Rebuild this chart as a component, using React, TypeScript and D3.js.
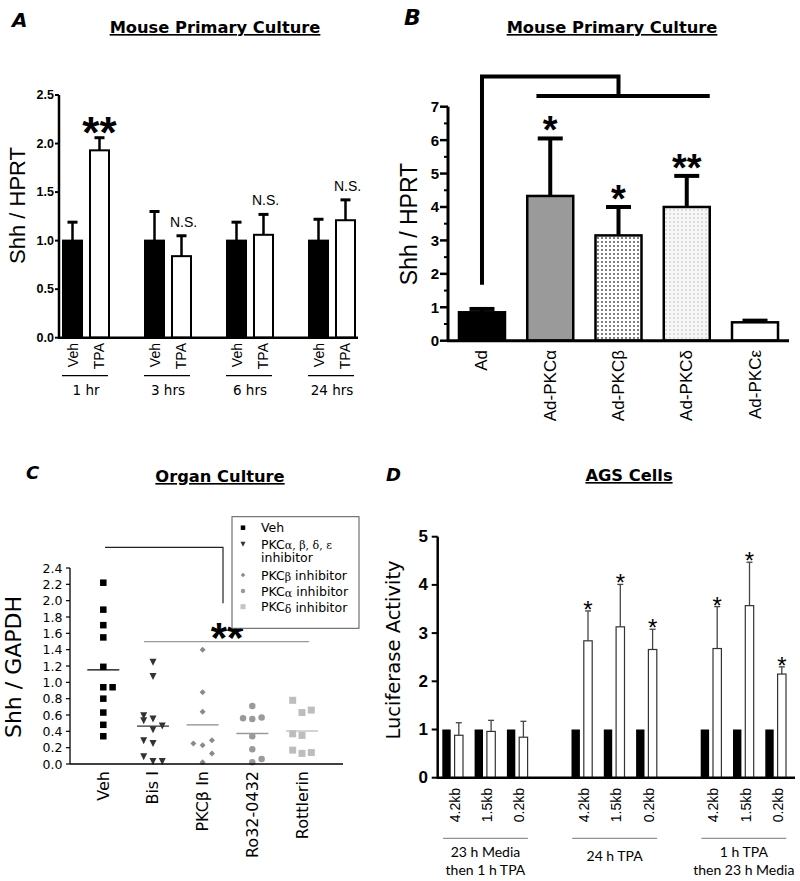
import React from "react";
import * as d3 from "d3";

// ---------- Panel A data ----------
const aGroups = ["1 hr", "3 hrs", "6 hrs", "24 hrs"];
const aConds = ["Veh", "TPA"];
const aVehMean = [1.0, 1.0, 1.0, 1.0];
const aVehErr = [1.19, 1.3, 1.19, 1.22];
const aTpaMean = [1.93, 0.84, 1.06, 1.21];
const aTpaErr = [2.06, 1.05, 1.27, 1.42];
const aSig = ["**", "N.S.", "N.S.", "N.S."];
const aTicks = [0, 0.5, 1.0, 1.5, 2.0, 2.5];

// ---------- Panel B data ----------
const bCats = ["Ad", "Ad-PKCα", "Ad-PKCβ", "Ad-PKCδ", "Ad-PKCε"];
const bMeans = [0.85, 4.33, 3.15, 4.0, 0.55];
const bErr = [0.95, 6.05, 4.0, 4.93, 0.6];
const bSig = ["", "*", "*", "**", ""];
const bTicks = [0, 1, 2, 3, 4, 5, 6, 7];
const bBracket = [1.67, 7.9, 7.32]; // low end, top, second line (y units)

// ---------- Panel C data ----------
const cCats = ["Veh", "Bis I", "PKCβ In", "Ro32-0432", "Rottlerin"];
// [value, jitter column]
const cVeh: [number, number][] = [[2.22, 0], [1.89, 0], [1.7, 0], [1.55, 0], [1.19, 0], [0.94, 0], [0.94, 1], [0.8, 0], [0.63, 0], [0.48, 0], [0.34, 0]];
const cBis: [number, number][] = [[1.245, 0], [1.07, 0], [0.59, -1], [0.53, -1], [0.55, 0], [0.465, 1], [0.42, 0], [0.285, -1], [0.25, 0], [0.09, -1], [0.03, 0], [0.03, 1]];
const cPkcb: [number, number][] = [[1.4, 0], [0.88, 0], [0.64, 0], [0.25, -1], [0.23, 0], [0.29, 1], [0.13, 1], [0.02, 0]];
const cRo: [number, number][] = [[0.71, 0], [0.56, -1], [0.55, 0], [0.57, 1], [0.34, 0], [0.18, 0], [0.02, 0], [0.06, 1]];
const cRott: [number, number][] = [[0.78, -1], [0.66, 1], [0.63, 0], [0.37, -1], [0.35, 0], [0.17, -1], [0.13, 0], [0.14, 1]];
const cTicks = [0, 0.2, 0.4, 0.6, 0.8, 1.0, 1.2, 1.4, 1.6, 1.8, 2.0, 2.2, 2.4];

// ---------- Panel D data ----------
const dConstructs = ["4.2kb", "1.5kb", "0.2kb"];
const dGroups = [["23 h Media", "then 1 h TPA"], ["24 h TPA"], ["1 h TPA", "then 23 h Media"]];
const dControl = [1, 1, 1, 1, 1, 1, 1, 1, 1];
const dTreated = [0.88, 0.96, 0.84, 2.84, 3.13, 2.66, 2.68, 3.57, 2.15];
const dTreatedErr = [1.14, 1.19, 1.17, 3.46, 4.01, 3.08, 3.55, 4.47, 2.3];
const dSig = ["", "", "", "*", "*", "*", "*", "*", "*"];
const dTicks = [0, 1, 2, 3, 4, 5];

const ARIAL = "'Liberation Sans', Arial, sans-serif";
const COMIC = "'DejaVu Sans', sans-serif";
const LATO = "Lato, 'Open Sans', sans-serif";

function Title({ x, y, text }: { x: number; y: number; text: string }) {
  return (
    <text x={x} y={y} textAnchor="middle" fontFamily={COMIC} fontWeight="bold" fontSize={16.3}
      style={{ textDecoration: "underline" }}>{text}</text>
  );
}

function PanelLabel({ x, y, text, size }: { x: number; y: number; text: string; size: number }) {
  return <text x={x} y={y} fontFamily={COMIC} fontWeight="bold" fontStyle="italic" fontSize={size}>{text}</text>;
}

function PanelA() {
  const y = d3.scaleLinear().domain([0, 2.5]).range([337.7, 95]);
  const xg = d3.scaleBand<string>().domain(aGroups).range([63, 63 + 82 * 4]);
  const xc = d3.scaleBand<string>().domain(aConds).range([0, 46]).paddingInner(0.296);
  const bw = xc.bandwidth();
  const axisX = 59;
  return (
    <g>
      <PanelLabel x={12} y={27} text="A" size={20} />
      <Title x={215} y={33} text="Mouse Primary Culture" />
      <text transform={`translate(17,205.5) rotate(-90)`} textAnchor="middle" dominantBaseline="central"
        fontFamily={ARIAL} fontSize={22}>Shh / HPRT</text>
      {aGroups.map((g, i) => {
        const gx = xg(g)!;
        const vals = [[aVehMean[i], aVehErr[i]], [aTpaMean[i], aTpaErr[i]]];
        return (
          <g key={g}>
            {aConds.map((c, j) => {
              const x = gx + xc(c)!;
              const [m, e] = vals[j];
              const cx = x + bw / 2;
              return (
                <g key={c}>
                  <line x1={cx} x2={cx} y1={y(m)} y2={y(e)} stroke="black" strokeWidth={2.5} />
                  <line x1={cx - 5} x2={cx + 5} y1={y(e)} y2={y(e)} stroke="black" strokeWidth={3} />
                  <rect x={x} y={y(m)} width={bw} height={y(0) - y(m)} fill={j === 0 ? "black" : "white"}
                    stroke="black" strokeWidth={2} />
                  <text transform={`translate(${cx},343) rotate(-90)`} textAnchor="end" dominantBaseline="central"
                    fontFamily={ARIAL} fontSize={14}>{c}</text>
                </g>
              );
            })}
            <line x1={gx - 1} x2={gx + 45} y1={375.7} y2={375.7} stroke="black" strokeWidth={1.2} />
            <text x={gx + 23} y={395} textAnchor="middle" fontFamily={COMIC} fontSize={13.5}>{g}</text>
            {aSig[i] === "**" ? (
              <text x={gx + xc("TPA")! + bw / 2} y={y(aTpaErr[i]) + 10} textAnchor="middle" fontFamily={ARIAL}
                fontWeight="bold" fontSize={44}>{aSig[i]}</text>
            ) : (
              <text x={gx + xc("TPA")! + bw / 2 + 2} y={y(aTpaErr[i]) - 9} textAnchor="middle" fontFamily={ARIAL}
                fontSize={14}>{aSig[i]}</text>
            )}
          </g>
        );
      })}
      <line x1={axisX} x2={axisX} y1={y(0)} y2={y(2.5)} stroke="black" strokeWidth={2.5} />
      <line x1={axisX - 1} x2={358} y1={y(0)} y2={y(0)} stroke="black" strokeWidth={2.5} />
      {aTicks.map((t) => (
        <g key={t}>
          <line x1={axisX - 4} x2={axisX} y1={y(t)} y2={y(t)} stroke="black" strokeWidth={2} />
          <text x={axisX - 5} y={y(t)} textAnchor="end" dominantBaseline="central" fontFamily={ARIAL}
            fontWeight="bold" fontSize={12.5}>{t.toFixed(1)}</text>
        </g>
      ))}
    </g>
  );
}

function PanelB() {
  const y = d3.scaleLinear().domain([0, 7]).range([340.7, 106.7]);
  const x = d3.scaleBand<string>().domain(bCats).range([448, 789]).paddingInner(0.326).paddingOuter(0.161);
  const bw = x.bandwidth();
  const fills = ["black", "#9a9a9a", "url(#dotsDark)", "url(#dotsLight)", "white"];
  const axisX = 448;
  const minor = d3.range(0.5, 7, 1);
  const adC = x("Ad")! + bw / 2;
  const joinX = x("Ad-PKCβ")! + bw / 2;
  const [bLow, bTop, bMid] = bBracket;
  return (
    <g>
      <PanelLabel x={404} y={25} text="B" size={22} />
      <Title x={612} y={33} text="Mouse Primary Culture" />
      <text transform={`translate(409,224) rotate(-90)`} textAnchor="middle" dominantBaseline="central"
        fontFamily={ARIAL} fontSize={23}>Shh / HPRT</text>
      {bCats.map((c, i) => {
        const bx = x(c)!;
        const cx = bx + bw / 2;
        return (
          <g key={c}>
            <line x1={cx} x2={cx} y1={y(bMeans[i])} y2={y(bErr[i])} stroke="black" strokeWidth={4} />
            <line x1={cx - 12.5} x2={cx + 12.5} y1={y(bErr[i])} y2={y(bErr[i])} stroke="black" strokeWidth={4} />
            <rect x={bx} y={y(bMeans[i])} width={bw} height={y(0) - y(bMeans[i])} fill={fills[i]}
              stroke="black" strokeWidth={2.5} />
            <text transform={`translate(${cx},350) rotate(-90)`} textAnchor="end" dominantBaseline="central"
              fontFamily={ARIAL} fontSize={17}>{c}</text>
            {bSig[i] && (
              <text x={cx} y={y(bErr[i]) + 5} textAnchor="middle" fontFamily={ARIAL} fontWeight="bold"
                fontSize={38}>{bSig[i]}</text>
            )}
          </g>
        );
      })}
      {/* significance bracket */}
      <path d={`M${adC},${y(bLow)} V${y(bTop)} H${joinX} V${y(bMid)}`} fill="none" stroke="black" strokeWidth={4} />
      <line x1={x("Ad-PKCα")! + bw * 0.2} x2={x("Ad-PKCδ")! + bw} y1={y(bMid)} y2={y(bMid)} stroke="black" strokeWidth={4} />
      <line x1={axisX} x2={axisX} y1={y(0)} y2={y(7)} stroke="black" strokeWidth={3} />
      <line x1={axisX - 1} x2={789} y1={y(0)} y2={y(0)} stroke="black" strokeWidth={3} />
      {bTicks.map((t) => (
        <g key={t}>
          <line x1={axisX - 8} x2={axisX} y1={y(t)} y2={y(t)} stroke="black" strokeWidth={2.5} />
          <text x={axisX - 9} y={y(t)} textAnchor="end" dominantBaseline="central" fontFamily={ARIAL}
            fontWeight="bold" fontSize={15}>{t}</text>
        </g>
      ))}
      {minor.map((t) => (
        <line key={t} x1={axisX - 4} x2={axisX} y1={y(t)} y2={y(t)} stroke="black" strokeWidth={2} />
      ))}
    </g>
  );
}

function Marker({ kind, x, y, color, s }: { kind: string; x: number; y: number; color: string; s: number }) {
  if (kind === "square") return <rect x={x - s / 2} y={y - s / 2} width={s} height={s} fill={color} />;
  if (kind === "tri")
    return <path d={`M${x - s / 2},${y - s / 2} L${x + s / 2},${y - s / 2} L${x},${y + s / 2} Z`} fill={color} />;
  if (kind === "diamond")
    return <path d={`M${x},${y - s / 2} L${x + s / 2},${y} L${x},${y + s / 2} L${x - s / 2},${y} Z`} fill={color} />;
  return <circle cx={x} cy={y} r={s / 2} fill={color} />;
}

function PanelC() {
  const y = d3.scaleLinear().domain([0, 2.4]).range([764, 568]);
  const x = d3.scalePoint<string>().domain(cCats).range([103.3, 302]);
  const jit = 9.3;
  const series = [
    { data: cVeh, kind: "square", color: "black", s: 6.5, mean: "black" },
    { data: cBis, kind: "tri", color: "#333333", s: 7, mean: "#333333" },
    { data: cPkcb, kind: "diamond", color: "#8a8a8a", s: 6, mean: "#8a8a8a" },
    { data: cRo, kind: "circle", color: "#9a9a9a", s: 6.5, mean: "#9a9a9a" },
    { data: cRott, kind: "square", color: "#bdbdbd", s: 7, mean: "#bdbdbd" },
  ];
  const axisX = 70;
  const legend = [
    { kind: "square", color: "black", s: 4.5 },
    { kind: "tri", color: "#333333", s: 5 },
    { kind: "diamond", color: "#8a8a8a", s: 4.5 },
    { kind: "circle", color: "#9a9a9a", s: 4.5 },
    { kind: "square", color: "#c4c4c4", s: 5 },
  ];
  const greek = "'DejaVu Serif', serif";
  return (
    <g>
      <PanelLabel x={26} y={479} text="C" size={18} />
      <Title x={220} y={482} text="Organ Culture" />
      <text transform={`translate(13,667) rotate(-90)`} textAnchor="middle" dominantBaseline="central"
        fontFamily={COMIC} fontSize={22}>Shh / GAPDH</text>
      {/* bracket */}
      <path d={`M105,547.3 H223 V603.3`} fill="none" stroke="#222" strokeWidth={1.2} />
      <line x1={144} x2={309} y1={641.7} y2={641.7} stroke="#999" strokeWidth={1.3} />
      <text x={227} y={652} textAnchor="middle" fontFamily={ARIAL} fontWeight="bold" fontSize={42}>**</text>
      {series.map((s, i) => {
        const cx = x(cCats[i])!;
        const m = d3.mean(s.data, (d) => d[0])!;
        return (
          <g key={cCats[i]}>
            {s.data.map((d, k) => (
              <Marker key={k} kind={s.kind} x={cx + d[1] * jit} y={y(d[0])} color={s.color} s={s.s} />
            ))}
            <line x1={cx - 16} x2={cx + 16} y1={y(m)} y2={y(m)} stroke={s.mean} strokeWidth={1.3} />
            <text transform={`translate(${cx},771) rotate(-90)`} textAnchor="end" dominantBaseline="central"
              fontFamily={COMIC} fontSize={16}>{cCats[i]}</text>
          </g>
        );
      })}
      <line x1={axisX} x2={axisX} y1={y(0)} y2={y(2.4)} stroke="black" strokeWidth={1.3} />
      <line x1={axisX} x2={343} y1={y(0)} y2={y(0)} stroke="black" strokeWidth={1.3} />
      {cTicks.map((t) => (
        <g key={t}>
          <line x1={axisX - 4} x2={axisX} y1={y(t)} y2={y(t)} stroke="black" strokeWidth={1.2} />
          <text x={62.5} y={y(t)} textAnchor="end" dominantBaseline="central" fontFamily={COMIC}
            fontSize={12.5}>{t.toFixed(1)}</text>
        </g>
      ))}
      {/* legend */}
      <rect x={232} y={516.7} width={127} height={111.6} fill="white" stroke="#555" strokeWidth={1} />
      {[527.7, 544.3, 575, 591, 606.7].map((ly, i) => (
        <Marker key={i} kind={legend[i].kind} x={243} y={ly} color={legend[i].color} s={legend[i].s} />
      ))}
      <g fontFamily={COMIC} fontSize={12.5}>
        <text x={261} y={527.7} dominantBaseline="central">Veh</text>
        <text x={261} y={544.3} dominantBaseline="central">PKC<tspan fontFamily={greek} fontSize={11} dy={1}>α, β, δ, ε</tspan></text>
        <text x={261} y={557.7} dominantBaseline="central">inhibitor</text>
        <text x={261} y={575} dominantBaseline="central">PKC<tspan fontFamily={greek} fontSize={11} dy={2}>β</tspan><tspan dy={-2}> inhibitor</tspan></text>
        <text x={261} y={591} dominantBaseline="central">PKC<tspan fontFamily={greek} fontSize={11} dy={2}>α</tspan><tspan dy={-2}> inhibitor</tspan></text>
        <text x={261} y={606.7} dominantBaseline="central">PKC<tspan fontFamily={greek} fontSize={11} dy={2}>δ</tspan><tspan dy={-2}> inhibitor</tspan></text>
      </g>
    </g>
  );
}

function PanelD() {
  const y = d3.scaleLinear().domain([0, 5]).range([777.7, 536.7]);
  const slot = d3.scaleLinear().domain([0, 10]).range([442.3, 765.3]);
  const bw = 8.4;
  const off = 12.3;
  const axisX = 437.7;
  return (
    <g>
      <PanelLabel x={386} y={481} text="D" size={18} />
      <Title x={629} y={481} text="AGS Cells" />
      <text transform={`translate(393,650) rotate(-90)`} textAnchor="middle" dominantBaseline="central"
        fontFamily={COMIC} fontSize={19.5}>Luciferase Activity</text>
      {dTreated.map((v, i) => {
        const g = Math.floor(i / 3);
        const c = i % 3;
        const sx = slot(g * 4 + c);
        const wx = sx + off;
        const wc = wx + bw / 2;
        return (
          <g key={i}>
            <rect x={sx} y={y(dControl[i])} width={bw} height={y(0) - y(dControl[i])} fill="black" />
            <line x1={wc} x2={wc} y1={y(v)} y2={y(dTreatedErr[i])} stroke="#444" strokeWidth={1.3} />
            <line x1={wc - 3} x2={wc + 3} y1={y(dTreatedErr[i])} y2={y(dTreatedErr[i])} stroke="#444" strokeWidth={1.3} />
            <rect x={wx} y={y(v)} width={bw} height={y(0) - y(v)} fill="white" stroke="#333" strokeWidth={1.2} />
            {dSig[i] && (
              <text x={wc} y={y(dTreatedErr[i]) + 7} textAnchor="middle" fontFamily={ARIAL} fontSize={24}>{dSig[i]}</text>
            )}
            <text transform={`translate(${sx + 12.5},788) rotate(-90)`} textAnchor="end" dominantBaseline="central"
              fontFamily={ARIAL} fontSize={14}>{dConstructs[c]}</text>
          </g>
        );
      })}
      {dGroups.map((lines, g) => {
        const x1 = slot(g * 4) + 0.7;
        const x2 = slot(g * 4 + 2) + 21;
        const cx = (x1 + x2) / 2;
        const y0 = lines.length === 1 ? 861 : 857;
        return (
          <g key={g}>
            <line x1={x1} x2={x2} y1={838.3} y2={838.3} stroke="#777" strokeWidth={1} />
            {lines.map((l, k) => (
              <text key={k} x={cx} y={y0 + k * 18} textAnchor="middle" fontFamily={LATO} fontSize={14}>{l}</text>
            ))}
          </g>
        );
      })}
      <line x1={axisX} x2={axisX} y1={y(0)} y2={y(5)} stroke="black" strokeWidth={2.5} />
      <line x1={axisX - 1} x2={795} y1={y(0)} y2={y(0)} stroke="black" strokeWidth={2.5} />
      {dTicks.map((t) => (
        <g key={t}>
          <line x1={axisX - 6} x2={axisX} y1={y(t)} y2={y(t)} stroke="black" strokeWidth={2} />
          <text x={428} y={y(t)} textAnchor="end" dominantBaseline="central" fontFamily={ARIAL}
            fontWeight="bold" fontSize={17}>{t}</text>
        </g>
      ))}
    </g>
  );
}

export default function App() {
  return (
    <svg width={800} height={881} viewBox="0 0 800 881"
      style={{ position: "absolute", left: 0, top: 0, background: "white" }}>
      <defs>
        <pattern id="dotsDark" width={4} height={4} patternUnits="userSpaceOnUse">
          <rect width={4} height={4} fill="white" />
          <circle cx={2} cy={2} r={0.9} fill="#444" />
        </pattern>
        <pattern id="dotsLight" width={4} height={4} patternUnits="userSpaceOnUse">
          <rect width={4} height={4} fill="#f7f7f7" />
          <circle cx={2} cy={2} r={0.8} fill="#bbbbbb" />
        </pattern>
      </defs>
      <rect width={800} height={881} fill="white" />
      <PanelA />
      <PanelB />
      <PanelC />
      <PanelD />
    </svg>
  );
}
